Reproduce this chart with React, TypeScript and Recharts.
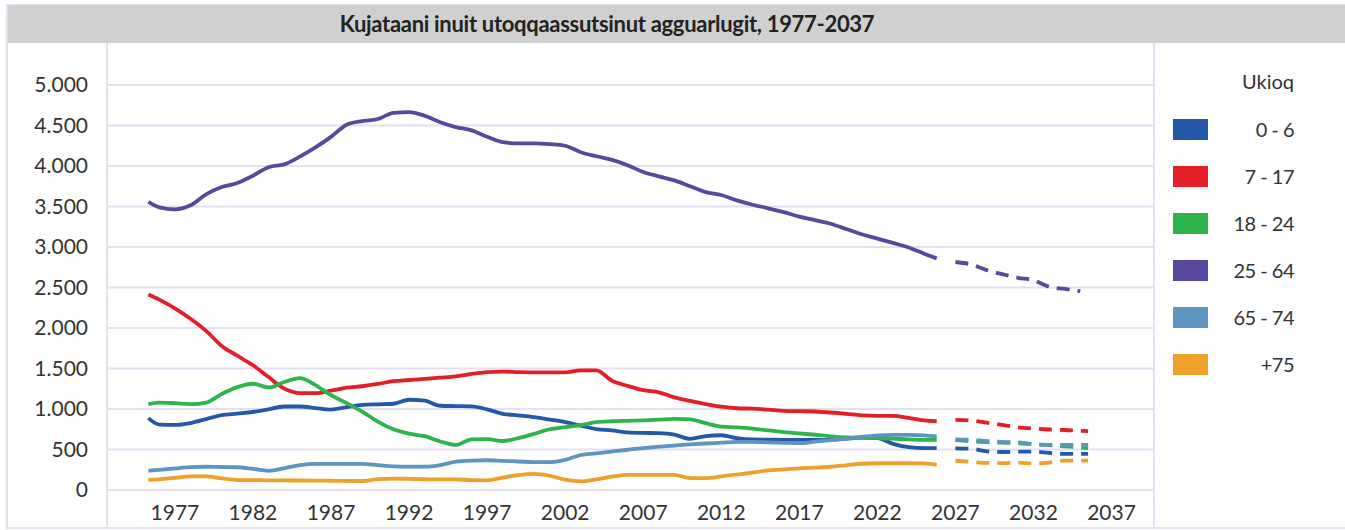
import { LineChart, Line, XAxis, YAxis, CartesianGrid } from 'recharts'

// ── data ──────────────────────────────────────────────────────────────────────

const title = 'Kujataani inuit utoqqaassutsinut agguarlugit, 1977-2037'
const legendTitle = 'Ukioq'

const years = [
  1975.3, 1976, 1977, 1978, 1979, 1980, 1981, 1982, 1983, 1984, 1985, 1986, 1987,
  1988, 1989, 1990, 1991, 1992, 1993, 1994, 1995, 1996, 1997, 1998, 1999, 2000,
  2001, 2002, 2003, 2004, 2005, 2006, 2007, 2008, 2009, 2010, 2011, 2012, 2013,
  2014, 2015, 2016, 2017, 2018, 2019, 2020, 2021, 2022, 2023, 2024, 2025, 2025.8,
]
const projYears = [2027, 2028, 2029, 2030, 2031, 2032, 2033, 2034, 2035, 2035.5]

const xTicks = [1977, 1982, 1987, 1992, 1997, 2002, 2007, 2012, 2017, 2022, 2027, 2032, 2037]
const yTicks = [0, 500, 1000, 1500, 2000, 2500, 3000, 3500, 4000, 4500, 5000]

const ageGroups = ['0 - 6', '7 - 17', '18 - 24', '25 - 64', '65 - 74', '+75']

const age0to6 = [
  887, 808, 804, 827, 875, 924, 943, 963, 996, 1031, 1031, 1012, 993, 1022, 1050,
  1058, 1065, 1114, 1102, 1040, 1036, 1033, 995, 941, 921, 899, 870, 839, 794, 752,
  735, 712, 705, 701, 683, 632, 666, 676, 640, 624, 622, 619, 619, 619, 619, 633,
  646, 642, 570, 528, 516, 516,
]
const age7to17 = [
  2413, 2350, 2243, 2115, 1965, 1778, 1658, 1540, 1394, 1253, 1196, 1196, 1226, 1263,
  1281, 1309, 1344, 1358, 1372, 1387, 1403, 1434, 1455, 1462, 1456, 1452, 1452, 1452,
  1477, 1477, 1349, 1285, 1232, 1206, 1143, 1100, 1061, 1028, 1009, 1004, 992, 977,
  973, 969, 957, 941, 922, 916, 916, 889, 859, 849,
]
const age18to24 = [
  1060, 1079, 1072, 1061, 1080, 1186, 1270, 1312, 1266, 1333, 1382, 1295, 1170, 1072,
  966, 845, 749, 696, 664, 599, 557, 624, 628, 605, 641, 692, 750, 775, 801, 837, 849,
  854, 860, 868, 878, 873, 825, 782, 772, 759, 735, 715, 698, 682, 663, 650, 646, 642,
  634, 624, 619, 619,
]
const age25to64 = [
  3556, 3490, 3465, 3515, 3650, 3740, 3790, 3880, 3985, 4020, 4115, 4230, 4360, 4510,
  4555, 4580, 4655, 4665, 4620, 4540, 4480, 4440, 4360, 4295, 4280, 4280, 4270, 4250,
  4170, 4120, 4075, 4010, 3925, 3872, 3822, 3750, 3678, 3642, 3575, 3522, 3478, 3430,
  3376, 3331, 3287, 3223, 3157, 3104, 3050, 2994, 2917, 2860,
]
const age65to74 = [
  239, 249, 266, 282, 287, 284, 281, 261, 237, 268, 306, 322, 322, 322, 322, 308, 292,
  289, 289, 308, 349, 363, 367, 360, 352, 344, 343, 371, 432, 451, 474, 497, 516, 535,
  549, 562, 574, 584, 595, 593, 588, 583, 578, 597, 616, 635, 655, 674, 681, 681, 674,
  662,
]
const age75plus = [
  124, 132, 150, 167, 168, 144, 123, 122, 120, 118, 117, 116, 114, 112, 111, 135, 141,
  138, 133, 132, 132, 121, 120, 154, 185, 198, 176, 127, 106, 132, 164, 186, 186, 186,
  186, 147, 146, 167, 191, 216, 241, 255, 268, 277, 287, 305, 324, 330, 330, 330, 328,
  311,
]

// projections (dashed)
const age0to6Proj = [515, 509, 478, 469, 473, 474, 458, 446, 446, 446]
const age7to17Proj = [865, 857, 831, 804, 774, 758, 747, 741, 731, 728]
const age18to24Proj = [617, 601, 590, 584, 577, 566, 553, 539, 525, 516]
const age25to64Proj = [2815, 2785, 2715, 2665, 2620, 2590, 2510, 2482, 2454, null]
const age65to74Proj = [626, 621, 604, 593, 589, 565, 557, 557, 557, 557]
const age75plusProj = [361, 347, 335, 332, 337, 327, 339, 363, 363, 363]

const colors = ['#2458a8', '#e31e26', '#2db44a', '#5a479e', '#5b95c0', '#eda02a']

const series = [
  { key: 'a0', solid: age0to6, proj: age0to6Proj },
  { key: 'a7', solid: age7to17, proj: age7to17Proj },
  { key: 'a18', solid: age18to24, proj: age18to24Proj },
  { key: 'a25', solid: age25to64, proj: age25to64Proj },
  { key: 'a65', solid: age65to74, proj: age65to74Proj },
  { key: 'a75', solid: age75plus, proj: age75plusProj },
]

const data = [
  ...years.map((year, i) => {
    const row: Record<string, number | null> = { year }
    series.forEach((s) => { row[s.key] = s.solid[i] })
    return row
  }),
  ...projYears.map((year, i) => {
    const row: Record<string, number | null> = { year }
    series.forEach((s) => { row[s.key + 'p'] = s.proj[i] })
    return row
  }),
]

// ── styles ────────────────────────────────────────────────────────────────────

const FONT = 'Lato, "Open Sans", sans-serif'
const TEXT = '#333333'
const FRAME = '#e2e0f1'

const fmtThousands = (v: number) =>
  v >= 1000 ? `${Math.floor(v / 1000)}.${String(v % 1000).padStart(3, '0')}` : String(v)

const tickStyle = { fontSize: 21, fill: TEXT, fontFamily: FONT }

function LegendPanel() {
  return (
    <div style={{ position: 'absolute', left: 1156, top: 43, width: 189, height: 485, fontFamily: FONT, color: TEXT }}>
      <div style={{ position: 'absolute', left: 0, width: 224, top: 26, textAlign: 'center', fontSize: 20 }}>
        {legendTitle}
      </div>
      {ageGroups.map((label, i) => (
        <div key={label} style={{ position: 'absolute', top: 76 + i * 47, left: 0, width: 189, height: 22 }}>
          <div style={{ position: 'absolute', left: 17, top: 0, width: 35, height: 21, background: colors[i] }} />
          <div
            style={{
              position: 'absolute', right: 51, top: -2, fontSize: 20, lineHeight: '24px',
              whiteSpace: 'nowrap', letterSpacing: -0.5,
            }}
          >
            {label}
          </div>
        </div>
      ))}
    </div>
  )
}

export default function App() {
  return (
    <div style={{ position: 'absolute', left: 0, top: 0, width: 1345, height: 530, background: '#fff', overflow: 'hidden' }}>
      {/* title bar */}
      <div style={{ position: 'absolute', left: 7, top: 4, width: 1338, height: 2, background: FRAME }} />
      <div style={{ position: 'absolute', left: 7, top: 5, width: 1338, height: 38, background: '#d0d0d0' }} />
      <div
        style={{
          position: 'absolute', left: 7, width: 1200, top: 5, height: 38, lineHeight: '38px',
          textAlign: 'center', fontFamily: FONT, fontSize: 22, fontWeight: 700, color: '#222',
          letterSpacing: -0.3,
        }}
      >
        {title}
      </div>
      {/* frame lines */}
      <div style={{ position: 'absolute', left: 6, top: 4, width: 2, height: 525, background: FRAME }} />
      <div style={{ position: 'absolute', left: 106, top: 43, width: 2, height: 485, background: FRAME }} />
      <div style={{ position: 'absolute', left: 1153, top: 43, width: 2, height: 485, background: FRAME }} />
      <div style={{ position: 'absolute', left: 6, top: 527, width: 1339, height: 2, background: FRAME }} />

      <div style={{ position: 'absolute', left: 0, top: 0 }}>
        <LineChart width={1345} height={530} data={data} margin={{ top: 85, right: 191, bottom: 0, left: 7 }}>
          <CartesianGrid vertical={false} stroke={FRAME} strokeWidth={2} />
          <XAxis
            dataKey="year"
            type="number"
            domain={[1972.65, 2039.72]}
            ticks={xTicks}
            interval={0}
            tick={tickStyle}
            tickLine={false}
            axisLine={false}
            tickMargin={9}
            height={40}
          />
          <YAxis
            type="number"
            domain={[0, 5000]}
            ticks={yTicks}
            interval={0}
            tickFormatter={fmtThousands}
            tick={tickStyle}
            tickLine={false}
            axisLine={false}
            tickMargin={13}
            width={100}
          />
          {series.map((s, i) => (
            <Line
              key={s.key}
              type="monotone"
              dataKey={s.key}
              stroke={colors[i]}
              strokeWidth={3.8}
              dot={false}
              connectNulls={false}
              isAnimationActive={false}
            />
          ))}
          {series.map((s, i) => (
            <Line
              key={s.key + 'p'}
              type="monotone"
              dataKey={s.key + 'p'}
              stroke={colors[i]}
              strokeWidth={3.8}
              strokeDasharray="13 8"
              dot={false}
              connectNulls={false}
              isAnimationActive={false}
            />
          ))}
        </LineChart>
      </div>

      <LegendPanel />
    </div>
  )
}
